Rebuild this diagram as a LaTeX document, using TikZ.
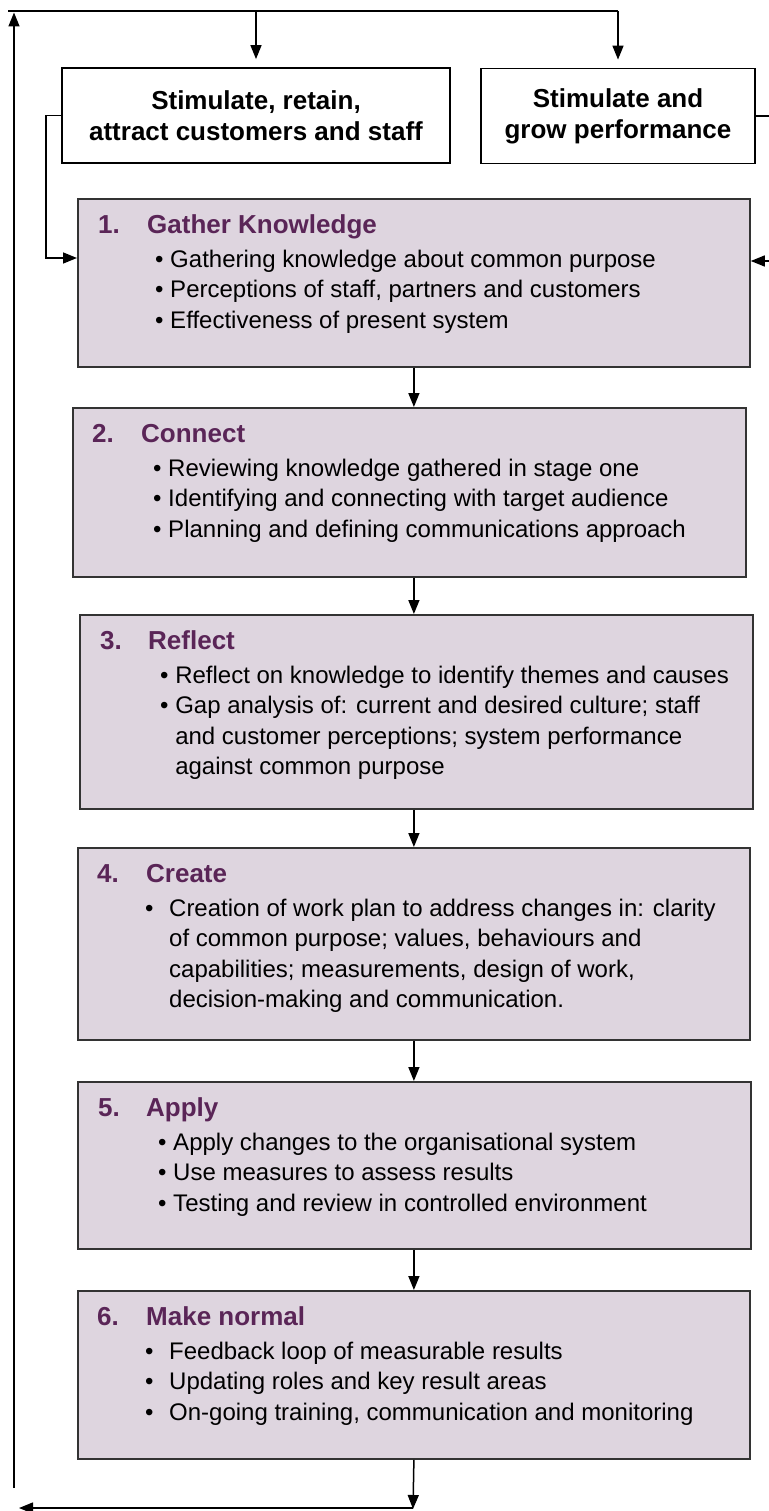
\documentclass[tikz,border=0pt]{standalone}
\usepackage{fontspec}
\setmainfont{Liberation Sans}
\usetikzlibrary{arrows.meta}

\definecolor{stagefill}{HTML}{DED5DF}
\definecolor{stagehead}{HTML}{5A2557}
\definecolor{stageline}{HTML}{333333}

\begin{document}
\begin{tikzpicture}[x=1pt,y=-1pt,
  goalbox/.style={draw=black, line width=1.8pt, fill=white, minimum height=95pt, align=center, font=\fontsize{26}{31}\selectfont\bfseries},
  stagebox/.style={draw=stageline, line width=1.8pt, fill=stagefill, anchor=north west, inner sep=0pt},
  stagetext/.style={anchor=north west, align=left, inner sep=0pt, font=\fontsize{24}{30.5}\selectfont},
  link/.style={line width=1.5pt, -{Triangle[length=14pt,width=11pt]}},
  plain/.style={line width=1.5pt}]
\useasboundingbox[fill=white] (0,0) rectangle (768,1511);

% the two aims at the top
\node[goalbox, minimum width=388pt] (ga) at (256,115.5) {Stimulate, retain,\\attract customers and staff};
\node[goalbox, minimum width=274pt] (gb) at (618,116) {Stimulate and\\grow performance};

% six stages
\node[stagebox, minimum width=672pt, minimum height=168pt] (s1) at (77,198) {};
\node[stagebox, minimum width=673pt, minimum height=169pt] (s2) at (72,407) {};
\node[stagebox, minimum width=673pt, minimum height=194pt] (s3) at (79,614) {};
\node[stagebox, minimum width=672pt, minimum height=192pt] (s4) at (77,847) {};
\node[stagebox, minimum width=673pt, minimum height=167pt] (s5) at (77,1081) {};
\node[stagebox, minimum width=672pt, minimum height=168pt] (s6) at (77,1290) {};

\node[stagetext] (s1t) at (98,211.6) {\strut\makebox[49pt][l]{\fontsize{26}{30.5}\selectfont\color{stagehead}\bfseries 1.}{\fontsize{26}{30.5}\selectfont\color{stagehead}\bfseries Gather Knowledge}\\[3.5pt]
  \hspace*{57pt}\textbullet\ Gathering knowledge about common purpose\\
  \hspace*{57pt}\textbullet\ Perceptions of staff, partners and customers\\
  \hspace*{57pt}\textbullet\ Effectiveness of present system};
\node[stagetext] (s2t) at (92,420.6) {\strut\makebox[49pt][l]{\fontsize{26}{30.5}\selectfont\color{stagehead}\bfseries 2.}{\fontsize{26}{30.5}\selectfont\color{stagehead}\bfseries Connect}\\[3.5pt]
  \hspace*{61pt}\textbullet\ Reviewing knowledge gathered in stage one\\
  \hspace*{61pt}\textbullet\ Identifying and connecting with target audience\\
  \hspace*{61pt}\textbullet\ Planning and defining communications approach};
\node[stagetext] (s3t) at (100,627.6) {\strut\makebox[48pt][l]{\fontsize{26}{30.5}\selectfont\color{stagehead}\bfseries 3.}{\fontsize{26}{30.5}\selectfont\color{stagehead}\bfseries Reflect}\\[3.5pt]
  \hspace*{60pt}\textbullet\ Reflect on knowledge to identify themes and causes\\
  \hspace*{60pt}\textbullet\ Gap analysis of: current and desired culture; staff\\
  \hspace*{60pt}\phantom{\textbullet\ }and customer perceptions; system performance\\
  \hspace*{60pt}\phantom{\textbullet\ }against common purpose};
\node[stagetext] (s4t) at (97,860.6) {\strut\makebox[49pt][l]{\fontsize{26}{30.5}\selectfont\color{stagehead}\bfseries 4.}{\fontsize{26}{30.5}\selectfont\color{stagehead}\bfseries Create}\\[3.5pt]
  \hspace*{48pt}\makebox[24pt][l]{\textbullet}Creation of work plan to address changes in: clarity\\
  \hspace*{72pt}of common purpose; values, behaviours and\\
  \hspace*{72pt}capabilities; measurements, design of work,\\
  \hspace*{72pt}decision-making and communication.};
\node[stagetext] (s5t) at (98,1094.6) {\strut\makebox[48pt][l]{\fontsize{26}{30.5}\selectfont\color{stagehead}\bfseries 5.}{\fontsize{26}{30.5}\selectfont\color{stagehead}\bfseries Apply}\\[3.5pt]
  \hspace*{60pt}\textbullet\ Apply changes to the organisational system\\
  \hspace*{60pt}\textbullet\ Use measures to assess results\\
  \hspace*{60pt}\textbullet\ Testing and review in controlled environment};
\node[stagetext] (s6t) at (97,1303.6) {\strut\makebox[49pt][l]{\fontsize{26}{30.5}\selectfont\color{stagehead}\bfseries 6.}{\fontsize{26}{30.5}\selectfont\color{stagehead}\bfseries Make normal}\\[3.5pt]
  \hspace*{48pt}\makebox[24pt][l]{\textbullet}Feedback loop of measurable results\\
  \hspace*{48pt}\makebox[24pt][l]{\textbullet}Updating roles and key result areas\\
  \hspace*{48pt}\makebox[24pt][l]{\textbullet}On-going training, communication and monitoring};

% stage to stage
\draw[link] (s1.south) -- (s1.south |- s2.north);
\draw[link] (s2.south -| s1.south) -- (s1.south |- s3.north);
\draw[link] (s3.south -| s1.south) -- (s1.south |- s4.north);
\draw[link] (s4.south) -- (s4.south |- s5.north);
\draw[link] (s5.south -| s4.south) -- (s4.south |- s6.north);

% feeding the aims into stage one
\coordinate (feedA) at (46,258);
\coordinate (feedB) at (770,261);
\draw[link] (ga.west) -| (feedA) -- (feedA -| s1.west);
\draw[link] (gb.east) -| (feedB) -- (feedB -| s1.east);

% the loop back round to the top
\coordinate (loopE) at (413,1508);
\coordinate (loopW) at (19,1508);
\coordinate (loopB) at (14,1488);
\coordinate (loopT) at (14,12.5);
\coordinate (topL) at (8,11);
\coordinate (topR) at (618,11);
\draw[link] (s6.south) -- ([yshift=-1pt]loopE);
\draw[link] (loopE) -- (loopW);
\draw[link] (loopB) -- (loopT);
\draw[plain] (topL) -- (topR);
\draw[link, shorten >=8pt] (ga.north |- topR) -- (ga.north);
\draw[link, shorten >=8pt] (topR) -- (gb.north);
\end{tikzpicture}
\end{document}
